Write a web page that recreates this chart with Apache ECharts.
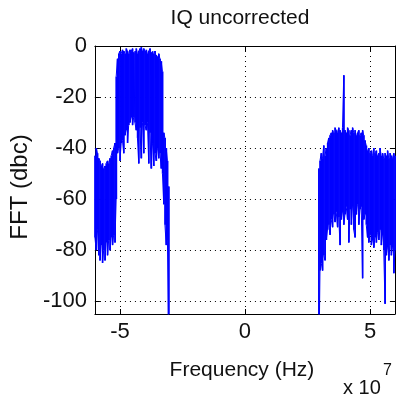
<!DOCTYPE html>
<html><head><meta charset="utf-8">
<script src="https://cdn.jsdelivr.net/npm/echarts@6/dist/echarts.min.js"></script>
<style>html,body{margin:0;padding:0;background:#fff}#c{width:400px;height:398px}</style>
</head><body><div id="c"></div>
<script>
const titleText = 'IQ uncorrected';
const xName = 'Frequency (Hz)';
const yName = 'FFT (dbc)';
const xTicks = [-5, 0, 5];
const yTicks = [0, -20, -40, -60, -80, -100];
const binWidth = 0.05; // spacing of the frequency samples (x 1e7 Hz)

// frequency in units of 1e7 Hz
const leftFreq = [-6.00,-5.95,-5.90,-5.85,-5.80,-5.75,-5.70,-5.65,-5.60,-5.55,-5.50,-5.45,-5.40,-5.35,-5.30,-5.25,-5.20,-5.15,
  -5.10,-5.05,-5.00,-4.95,-4.90,-4.85,-4.80,-4.75,-4.70,-4.65,-4.60,-4.55,-4.50,-4.45,-4.40,-4.35,-4.30,-4.25,-4.20,-4.15,
  -4.10,-4.05,-4.00,-3.95,-3.90,-3.85,-3.80,-3.75,-3.70,-3.65,-3.60,-3.55,-3.50,-3.45,-3.40,-3.35,-3.30,-3.25,-3.20,-3.15,-3.10,-3.05];
const leftTop = [-43,-40,-42,-44,-45,-47,-46,-48,-47,-46,-45,-46,-44,-43,-41,-40,-38,-12,
  -5,-3,-2,-3,-1.5,-2,-3,-1,-2,-3,-1.5,-2,-1,-2.5,-2,-1,-3,-2,-1,-0.5,
  -2,-1,-2,-1.5,-3,-2,-1,-2.5,-2,-3,-2,-3.5,-4,-3,-5,-6,-10,-34,-36,-40,-45,-55];
const leftBot = [-75,-80,-72,-82,-84,-78,-85,-80,-84,-77,-82,-76,-80,-75,-78,-74,-77,-60,
  -42,-40,-45,-38,-37,-42,-35,-33,-38,-31,-30,-28,-31,-28,-30,-33,-36,-46,-32,-44,
  -30,-42,-31,-33,-30,-46,-34,-48,-38,-47,-42,-45,-40,-44,-42,-48,-50,-62,-70,-78,-76,-130];

const rightFreq = [2.95,3.00,3.05,3.10,3.15,3.20,3.25,3.30,3.35,3.40,3.45,3.50,3.55,3.60,3.65,3.70,3.75,3.80,3.85,3.90,3.95,
  4.00,4.05,4.10,4.15,4.20,4.25,4.30,4.35,4.40,4.45,4.50,4.55,4.60,4.65,4.70,4.75,4.80,4.85,4.90,4.95,
  5.00,5.05,5.10,5.15,5.20,5.25,5.30,5.35,5.40,5.45,5.50,5.55,5.60,5.65,5.70,5.75,5.80,5.85,5.90,5.95,6.00];
const rightTop = [-48,-45,-42,-44,-39,-43,-40,-38,-36,-35,-34,-33,-34,-32,-33,-34,-32,-33,-34,-32,-11.5,
  -33,-34,-32,-33,-35,-33,-32,-34,-33,-35,-34,-33,-35,-34,-33,-35,-37,-39,-41,-40,
  -42,-41,-43,-40,-42,-41,-43,-42,-40,-43,-42,-44,-42,-43,-41,-44,-42,-43,-44,-42,-43];
const rightBot = [-130,-88,-85,-88,-82,-84,-76,-72,-70,-74,-68,-71,-66,-69,-65,-71,-67,-78,-68,-65,-70,
  -66,-63,-68,-77,-64,-70,-63,-72,-75,-66,-62,-70,-64,-63,-91,-68,-66,-70,-75,-77,
  -74,-78,-76,-79,-75,-77,-73,-76,-72,-78,-74,-80,-101,-82,-79,-84,-78,-82,-79,-89,-80];

function rows(f, top, bot) {
  return f.map((v, i) => [v, top[i], bot[i]]);
}
function zigzag(f, top, bot) {
  const out = [];
  for (let i = 0; i < f.length; i++) {
    if (i % 2 === 0) { out.push([f[i], top[i]]); out.push([f[i], bot[i]]); }
    else { out.push([f[i], bot[i]]); out.push([f[i], top[i]]); }
  }
  return out;
}

const FONT = "'Liberation Sans', Arial, sans-serif";
const TXT = '#111';
const BLUE = '#0000ff';
const grid = { left: 90, right: 5, top: 46, bottom: 84 };

function renderSpan(params, api) {
  const x = api.value(0);
  const pTop = api.coord([x, api.value(1)]);
  const pBot = api.coord([x, api.value(2)]);
  const w = api.size([binWidth, 0])[0];
  return {
    type: 'rect',
    shape: { x: pTop[0] - w / 2, y: pTop[1], width: w + 0.4, height: pBot[1] - pTop[1] },
    style: { fill: BLUE }
  };
}

const chart = echarts.init(document.getElementById('c'), null, { renderer: 'canvas' });
const axisLine = { show: true, onZero: false, lineStyle: { color: '#000', width: 1 } };
const gridLine = { show: true, lineStyle: { color: '#000', width: 1, type: [1, 4] } };

chart.setOption({
  animation: false,
  backgroundColor: '#fff',
  title: {
    text: titleText, left: 240, textAlign: 'center', top: 8, padding: 0,
    textStyle: { fontFamily: FONT, fontSize: 21, fontWeight: 'normal', color: TXT }
  },
  grid: grid,
  xAxis: [
    {
      type: 'value', min: -6, max: 6, position: 'bottom',
      axisLine: axisLine,
      axisTick: { show: true, inside: true, length: 5, customValues: xTicks, lineStyle: { color: '#000' } },
      axisLabel: { customValues: xTicks, margin: 7, fontSize: 22, fontFamily: FONT, color: TXT },
      splitLine: gridLine,
      name: xName, nameLocation: 'middle', nameGap: 46,
      nameTextStyle: { fontFamily: FONT, fontSize: 21, color: TXT, padding: [0, 6, 0, 0] }
    },
    {
      type: 'value', min: -6, max: 6, position: 'top',
      axisLine: axisLine,
      axisTick: { show: true, inside: true, length: 5, customValues: xTicks, lineStyle: { color: '#000' } },
      axisLabel: { show: false },
      splitLine: { show: false }
    }
  ],
  yAxis: [
    {
      type: 'value', min: -105, max: 0, position: 'left',
      axisLine: axisLine,
      axisTick: { show: true, inside: true, length: 5, customValues: yTicks, lineStyle: { color: '#000' } },
      axisLabel: { customValues: yTicks, margin: 8, fontSize: 22, fontFamily: FONT, color: TXT },
      splitLine: gridLine,
      name: yName, nameLocation: 'middle', nameGap: 62,
      nameTextStyle: { fontFamily: FONT, fontSize: 24, color: TXT, padding: [0, 14, 0, 0] }
    },
    {
      type: 'value', min: -105, max: 0, position: 'right',
      axisLine: axisLine,
      axisTick: { show: true, inside: true, length: 5, customValues: yTicks, lineStyle: { color: '#000' } },
      axisLabel: { show: false },
      splitLine: { show: false }
    }
  ],
  series: [
    {
      type: 'custom', xAxisIndex: 0, yAxisIndex: 0, data: rows(leftFreq, leftTop, leftBot),
      renderItem: renderSpan, clip: true, silent: true
    },
    {
      type: 'custom', xAxisIndex: 0, yAxisIndex: 0, data: rows(rightFreq, rightTop, rightBot),
      renderItem: renderSpan, clip: true, silent: true
    },
    {
      type: 'line', xAxisIndex: 0, yAxisIndex: 0, data: zigzag(leftFreq, leftTop, leftBot),
      symbol: 'none', silent: true, clip: true, lineStyle: { color: BLUE, width: 1 }
    },
    {
      type: 'line', xAxisIndex: 0, yAxisIndex: 0, data: zigzag(rightFreq, rightTop, rightBot),
      symbol: 'none', silent: true, clip: true, lineStyle: { color: BLUE, width: 1 }
    }
  ],
  graphic: [
    { type: 'text', x: 343, y: 388, style: { text: 'x 10', fontFamily: FONT, fontSize: 20, fill: TXT, verticalAlign: 'middle' } },
    { type: 'text', x: 383, y: 371, style: { text: '7', fontFamily: FONT, fontSize: 16, fill: TXT, verticalAlign: 'middle' } }
  ]
});
</script>
</body></html>
